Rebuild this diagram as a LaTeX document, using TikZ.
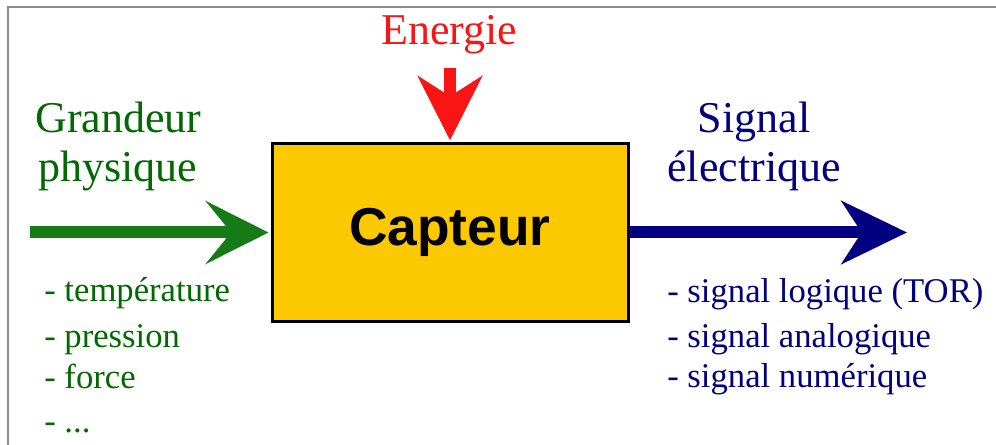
\documentclass[tikz,border=0pt]{standalone}
\usepackage{fontspec}
\setmainfont{Liberation Serif}
\newfontfamily\arialfont{Liberation Sans}
\usetikzlibrary{arrows.meta}
\definecolor{gr}{RGB}{22,122,22}
\definecolor{grtxt}{RGB}{0,105,0}
\definecolor{nv}{RGB}{0,0,128}
\definecolor{rd}{RGB}{250,20,20}
\definecolor{gold}{RGB}{252,200,0}
\definecolor{framec}{RGB}{140,140,140}
\begin{document}
\begin{tikzpicture}[x=0.75pt,y=-0.75pt,
  lbl/.style={inner sep=0pt, anchor=base west},
  lblc/.style={inner sep=0pt, anchor=base},
  big/.style={font=\fontsize{33}{40}\selectfont},
  small/.style={font=\fontsize{26}{31}\selectfont},
  flow/.style={line width=9pt}]
\useasboundingbox (0,0) rectangle (996,445);
\draw[framec, line width=1.5pt] (8,445) -- (8,7) -- (996,7);
\node[draw=black, line width=2.25pt, fill=gold, minimum width=267pt, minimum height=134pt, inner sep=0pt] (cap) at (450,232.5) {\arialfont\bfseries\fontsize{40}{46}\selectfont Capteur};
\coordinate (gs) at (30,232.5);
\coordinate (be) at (907,232.5);
\coordinate (rs) at (450,68);
\draw[gr, flow, shorten >=1.5pt, -{Stealth[length=47pt, width=47pt, inset=19pt]}] (gs) -- (cap.west);
\draw[nv, flow, -{Stealth[length=49pt, width=47pt, inset=15pt]}] (cap.east) -- (be);
\draw[rd, flow, shorten >=1pt, -{Stealth[length=48pt, width=48pt, inset=15pt]}] (rs) -- (cap.north);
\node[lbl, big, rd] (en) at (381,45) {Energie};
\node[lbl, big, grtxt] (g1) at (35,133) {Grandeur};
\node[lbl, big, grtxt] (g2) at (38,182) {physique};
\node[lblc, big, nv] (s1) at (754,133) {Signal};
\node[lblc, big, nv] (s2) at (754,182) {électrique};
\node[lbl, small, grtxt] (l1) at (44,302) {- température};
\node[lbl, small, grtxt] (l2) at (44,347) {- pression};
\node[lbl, small, grtxt] (l3) at (44,388) {- force};
\node[lbl, small, grtxt] (l4) at (44,432) {- ...};
\node[lbl, small, nv] (r1) at (667,303) {- signal logique (TOR)};
\node[lbl, small, nv] (r2) at (667,347) {- signal analogique};
\node[lbl, small, nv] (r3) at (667,387) {- signal numérique};
\end{tikzpicture}
\end{document}
